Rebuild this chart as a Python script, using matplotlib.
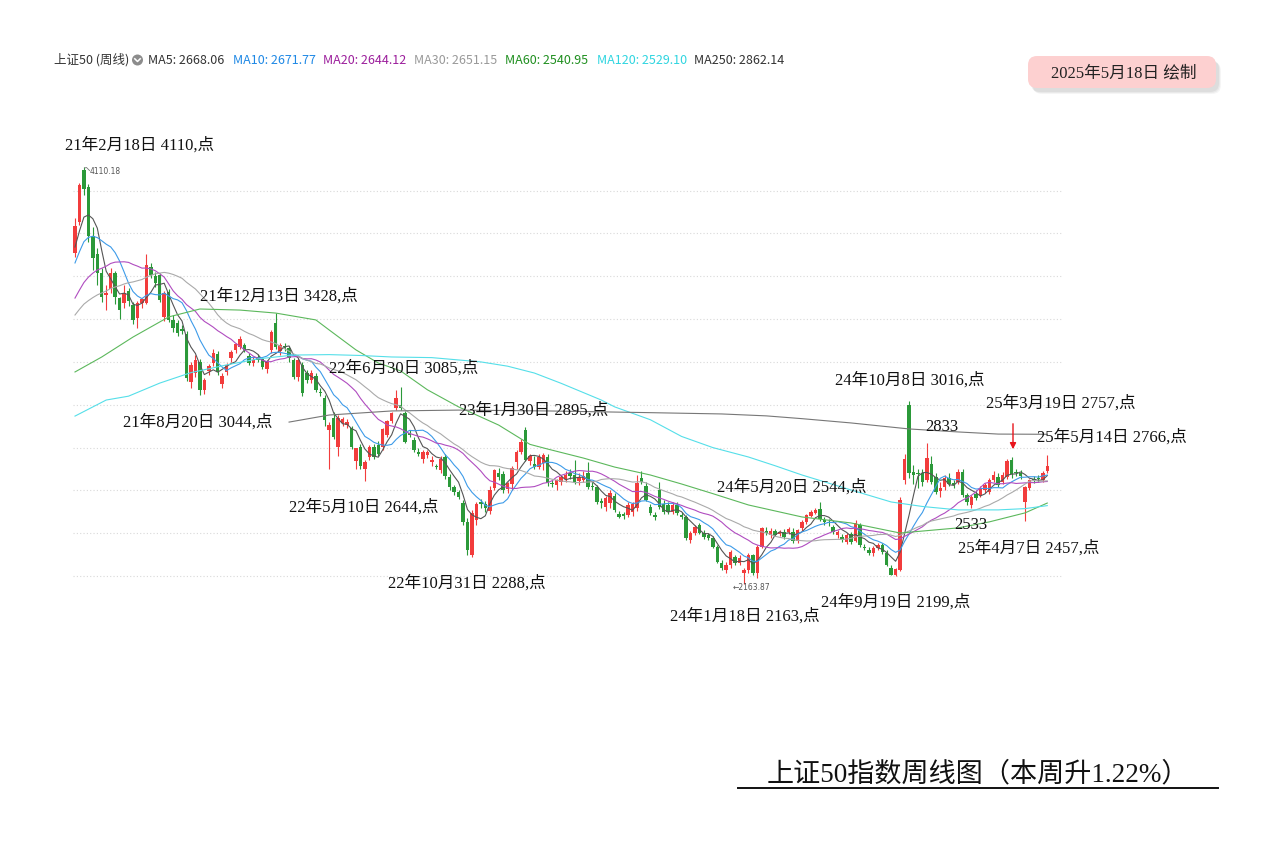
import matplotlib.pyplot as plt
from matplotlib.patches import FancyBboxPatch, Circle
import numpy as np
import pandas as pd

plt.rcParams['font.family'] = ['Noto Sans CJK SC', 'DejaVu Sans']
ANN_FONT = ['Liberation Serif', 'Noto Sans CJK SC']

# weekly bars of the SSE 50, first bar = week of 2021-02-01, last = week of 2025-05-12
opens = [
    3709, 3853, 4096, 4017, 3790, 3705, 3615, 3512, 3540, 3615,
    3498, 3475, 3531, 3466, 3405, 3475, 3475, 3643, 3601, 3606,
    3410, 3527, 3396, 3382, 3352, 3330, 3106, 3150, 3200, 3069,
    3158, 3195, 3237, 3095, 3153, 3218, 3256, 3270, 3279, 3228,
    3195, 3223, 3214, 3167, 3256, 3382, 3251, 3275, 3265, 3209,
    3130, 3186, 3148, 3116, 3135, 3060, 3031, 2882, 2938, 2803,
    2915, 2905, 2891, 2735, 2803, 2700, 2756, 2803, 2812, 2803,
    2859, 2924, 2985, 3000, 2961, 2868, 2835, 2780, 2746, 2765,
    2733, 2714, 2695, 2756, 2663, 2616, 2593, 2541, 2453, 2300,
    2460, 2545, 2535, 2505, 2610, 2681, 2676, 2605, 2630, 2733,
    2779, 2882, 2738, 2725, 2709, 2730, 2756, 2635, 2625, 2640,
    2653, 2681, 2672, 2644, 2649, 2681, 2621, 2616, 2551, 2522,
    2540, 2574, 2490, 2490, 2485, 2500, 2520, 2658, 2621, 2523,
    2485, 2602, 2537, 2532, 2500, 2532, 2485, 2476, 2368, 2401,
    2439, 2401, 2392, 2378, 2336, 2261, 2228, 2252, 2289, 2262,
    2214, 2228, 2298, 2214, 2336, 2410, 2392, 2410, 2396, 2406,
    2406, 2406, 2364, 2425, 2453, 2481, 2495, 2513, 2462, 2453,
    2429, 2392, 2382, 2359, 2396, 2365, 2439, 2336, 2322, 2308,
    2331, 2345, 2308, 2238, 2206, 2230, 2650, 3000, 2686, 2681,
    2681, 2649, 2723, 2663, 2598, 2616, 2658, 2635, 2640, 2686,
    2579, 2532, 2583, 2579, 2602, 2593, 2649, 2663, 2640, 2663,
    2742, 2688, 2680, 2546, 2612, 2655, 2660, 2650, 2690,
]
highs = [
    3872, 4035, 4110, 4030, 3830, 3730, 3640, 3560, 3640, 3625,
    3505, 3560, 3545, 3480, 3485, 3500, 3703, 3660, 3620, 3615,
    3530, 3540, 3420, 3395, 3370, 3345, 3200, 3230, 3215, 3125,
    3190, 3260, 3250, 3150, 3195, 3255, 3290, 3320, 3290, 3240,
    3225, 3235, 3225, 3210, 3350, 3428, 3290, 3290, 3275, 3220,
    3220, 3200, 3160, 3160, 3150, 3080, 3045, 2920, 2965, 2950,
    2945, 2935, 2900, 2800, 2815, 2740, 2810, 2815, 2830, 2890,
    2930, 2965, 3070, 3085, 2970, 2880, 2850, 2800, 2790, 2790,
    2760, 2725, 2760, 2770, 2675, 2625, 2600, 2555, 2470, 2510,
    2545, 2560, 2550, 2620, 2700, 2705, 2690, 2640, 2715, 2790,
    2840, 2895, 2770, 2760, 2770, 2775, 2770, 2650, 2655, 2670,
    2690, 2700, 2742, 2680, 2690, 2733, 2640, 2625, 2565, 2575,
    2600, 2590, 2505, 2500, 2545, 2548, 2670, 2690, 2640, 2535,
    2500, 2640, 2555, 2545, 2545, 2545, 2500, 2485, 2410, 2440,
    2450, 2415, 2400, 2385, 2345, 2275, 2265, 2320, 2300, 2300,
    2240, 2310, 2305, 2345, 2430, 2430, 2425, 2420, 2415, 2420,
    2430, 2425, 2420, 2460, 2490, 2510, 2520, 2544, 2475, 2465,
    2440, 2415, 2395, 2400, 2405, 2460, 2450, 2350, 2335, 2340,
    2355, 2355, 2320, 2250, 2240, 2570, 2770, 3016, 2720, 2700,
    2700, 2821, 2760, 2680, 2640, 2670, 2680, 2650, 2700, 2700,
    2590, 2580, 2600, 2620, 2635, 2660, 2690, 2680, 2685, 2745,
    2757, 2700, 2695, 2620, 2655, 2665, 2670, 2690, 2766,
]
lows = [
    3690, 3840, 3980, 3760, 3630, 3560, 3480, 3440, 3520, 3470,
    3400, 3450, 3460, 3375, 3360, 3450, 3470, 3590, 3550, 3480,
    3390, 3385, 3340, 3320, 3330, 3110, 3080, 3130, 3044, 3050,
    3140, 3180, 3140, 3080, 3140, 3200, 3240, 3260, 3245, 3185,
    3180, 3200, 3165, 3150, 3240, 3260, 3230, 3250, 3200, 3120,
    3110, 3040, 3100, 3100, 3060, 3040, 2900, 2700, 2840, 2760,
    2900, 2890, 2795, 2700, 2700, 2644, 2740, 2745, 2760, 2790,
    2850, 2915, 2975, 2975, 2820, 2850, 2780, 2760, 2730, 2750,
    2715, 2700, 2680, 2655, 2600, 2580, 2560, 2440, 2300, 2288,
    2440, 2520, 2500, 2490, 2600, 2650, 2590, 2590, 2600, 2700,
    2770, 2735, 2720, 2700, 2700, 2695, 2620, 2615, 2600, 2625,
    2640, 2655, 2630, 2625, 2640, 2605, 2600, 2535, 2520, 2505,
    2520, 2500, 2470, 2465, 2475, 2480, 2505, 2630, 2550, 2485,
    2460, 2515, 2490, 2490, 2490, 2485, 2465, 2370, 2355, 2390,
    2395, 2375, 2370, 2330, 2260, 2230, 2215, 2240, 2250, 2250,
    2164, 2215, 2205, 2190, 2330, 2390, 2380, 2385, 2385, 2375,
    2395, 2355, 2355, 2410, 2445, 2475, 2490, 2455, 2440, 2435,
    2395, 2380, 2360, 2350, 2350, 2360, 2335, 2320, 2300, 2295,
    2320, 2305, 2245, 2203, 2199, 2225, 2630, 2660, 2630, 2610,
    2620, 2640, 2630, 2585, 2570, 2600, 2620, 2610, 2630, 2570,
    2530, 2520, 2555, 2570, 2590, 2585, 2640, 2615, 2630, 2655,
    2660, 2665, 2655, 2457, 2600, 2635, 2640, 2640, 2680,
]
closes = [
    3835, 4026, 4007, 3790, 3685, 3615, 3503, 3522, 3615, 3503,
    3442, 3522, 3484, 3396, 3475, 3494, 3652, 3606, 3568, 3489,
    3522, 3396, 3358, 3335, 3343, 3125, 3185, 3209, 3069, 3116,
    3181, 3241, 3153, 3135, 3186, 3246, 3284, 3307, 3256, 3195,
    3209, 3209, 3176, 3200, 3340, 3270, 3279, 3265, 3218, 3130,
    3209, 3055, 3116, 3148, 3069, 3055, 2929, 2905, 2849, 2938,
    2934, 2919, 2803, 2798, 2714, 2733, 2803, 2756, 2770, 2887,
    2924, 2961, 3031, 2985, 2826, 2859, 2789, 2770, 2779, 2779,
    2742, 2709, 2746, 2667, 2616, 2593, 2569, 2453, 2322, 2495,
    2535, 2535, 2520, 2602, 2695, 2663, 2602, 2635, 2705, 2779,
    2826, 2742, 2760, 2710, 2756, 2765, 2635, 2628, 2649, 2663,
    2672, 2667, 2640, 2663, 2667, 2616, 2616, 2546, 2541, 2565,
    2588, 2509, 2476, 2481, 2532, 2537, 2635, 2640, 2555, 2495,
    2476, 2523, 2500, 2500, 2532, 2495, 2476, 2378, 2401, 2429,
    2401, 2382, 2378, 2336, 2266, 2238, 2252, 2312, 2261, 2284,
    2228, 2298, 2214, 2336, 2424, 2401, 2410, 2392, 2406, 2382,
    2420, 2362, 2415, 2453, 2485, 2499, 2509, 2467, 2453, 2448,
    2406, 2406, 2368, 2392, 2359, 2448, 2345, 2331, 2308, 2331,
    2345, 2312, 2252, 2205, 2232, 2555, 2745, 2681, 2672, 2675,
    2640, 2752, 2640, 2593, 2612, 2658, 2630, 2625, 2686, 2579,
    2546, 2569, 2565, 2612, 2625, 2649, 2672, 2625, 2672, 2735,
    2675, 2680, 2668, 2614, 2648, 2650, 2655, 2680, 2713,
]

# weekly closes before the first bar, only used to warm up the short averages
pre_closes = [
    3230, 3280, 3300, 3260, 3240, 3220, 3250, 3270, 3290, 3270,
    3280, 3300, 3290, 3310, 3320, 3340, 3330, 3360, 3380, 3430,
    3500, 3540, 3590, 3630, 3680, 3650, 3683, 3740, 3772,
]

# long averages: (bar index, value)
ma60_idx = [0, 6, 13, 21, 28, 37, 45, 54, 57, 63, 68, 73, 79, 86, 95, 102, 106,
            114, 121, 129, 136, 143, 151, 163, 174, 185, 198, 205, 213, 218]
ma60_val = [3153, 3223, 3316, 3410, 3447, 3442, 3428, 3396, 3349, 3256, 3195, 3158,
            3070, 2990, 2905, 2815, 2793, 2751, 2709, 2672, 2630, 2585, 2532, 2476,
            2448, 2401, 2425, 2453, 2495, 2541]
ma120_idx = [0, 7, 12, 19, 26, 34, 41, 49, 57, 64, 71, 80, 91, 97, 103, 109, 118,
             121, 129, 136, 143, 151, 157, 163, 174, 183, 190, 198, 207, 213, 218]
ma120_val = [2947, 3022, 3040, 3101, 3150, 3186, 3214, 3232, 3234, 3230, 3223, 3220,
             3200, 3180, 3148, 3100, 3022, 2990, 2930, 2852, 2800, 2756, 2715, 2672,
             2602, 2546, 2525, 2509, 2509, 2515, 2529]
ma250_idx = [48, 57, 71, 86, 106, 129, 145, 155, 163, 174, 187, 198, 207, 218]
ma250_val = [2919, 2952, 2971, 2975, 2971, 2963, 2957, 2948, 2935, 2915, 2887, 2873,
             2863, 2862]

header_labels = ['上证50 (周线)', 'MA5: 2668.06', 'MA10: 2671.77', 'MA20: 2644.12',
                 'MA30: 2651.15', 'MA60: 2540.95', 'MA120: 2529.10', 'MA250: 2862.14']
header_colors = ['#333333', '#333333', '#1e88e5', '#9c1f9c', '#999999',
                 '#1f8f1f', '#2fd5e0', '#333333']
header_x = [54, 148, 233, 323, 414, 505, 597, 694]

ann_texts = ['21年2月18日 4110,点', '21年12月13日 3428,点', '21年8月20日 3044,点',
             '22年6月30日 3085,点', '23年1月30日 2895,点', '22年5月10日 2644,点',
             '22年10月31日 2288,点', '24年5月20日 2544,点', '24年1月18日 2163,点',
             '24年9月19日 2199,点', '24年10月8日 3016,点', '2833',
             '25年3月19日 2757,点', '25年5月14日 2766,点', '2533', '25年4月7日 2457,点']
ann_pos = [(65, 145), (200, 296), (123, 422), (329, 368), (459, 410), (289, 507),
           (388, 583), (717, 487), (670, 616), (821, 602), (835, 380), (925, 427),
           (986, 403), (1037, 437), (954, 525), (958, 548)]

RED = '#f23c3c'
GREEN = '#2b9939'

W, H = 1273, 844
X0, DX = 75, 4.46            # pixel of first bar, pixels per bar
P0, Y0, PPX = 4110, 167, 4.669  # price at pixel row Y0, points per pixel

fig = plt.figure(figsize=(W / 100, H / 100), dpi=100)
fig.patch.set_facecolor('white')
ax = fig.add_axes([0, 0, 1, 1])
ax.set_xlim(-X0 / DX, (W - X0) / DX)
ax.set_ylim(P0 - (H - Y0) * PPX, P0 + Y0 * PPX)
ax.axis('off')

# dotted grid
ax.hlines(np.arange(2200, 4001, 200), -0.5, 221.5, colors='#d9d9d9',
          linestyles=(0, (1, 2)), lw=0.8, zorder=1)

# candles
o = np.array(opens, dtype=float)
h = np.array(highs, dtype=float)
l = np.array(lows, dtype=float)
c = np.array(closes, dtype=float)
x = np.arange(len(c))
col = np.where(c >= o, RED, GREEN)
ax.vlines(x, l, h, colors=col, lw=0.8, zorder=2)
ax.bar(x, np.maximum(np.abs(c - o), 4), bottom=np.minimum(o, c), width=0.78,
       color=col, lw=0, zorder=2)

# moving averages
allc = pd.Series(pre_closes + closes, dtype=float)
n_pre = len(pre_closes)
for n, colr in [(5, '#555555'), (10, '#3d9be9'), (20, '#b04cc0'), (30, '#aaaaaa')]:
    ma = allc.rolling(n).mean().iloc[n_pre:].to_numpy()
    ax.plot(x, ma, color=colr, lw=0.8, zorder=3)
ax.plot(ma60_idx, ma60_val, color='#5cb85c', lw=0.8, zorder=3)
ax.plot(ma120_idx, ma120_val, color='#55dfe9', lw=0.8, zorder=3)
ax.plot(ma250_idx, ma250_val, color='#777777', lw=0.8, zorder=3)

# overlay in pixel units for all texts
ov = fig.add_axes([0, 0, 1, 1], facecolor='none')
ov.set_xlim(0, W)
ov.set_ylim(H, 0)
ov.axis('off')

for lab, colr, hx in zip(header_labels, header_colors, header_x):
    ov.text(hx, 60, lab, color=colr, fontsize=9, va='center', ha='left')
ov.add_patch(Circle((137.5, 60), 5.5, fc='#8c8c8c', ec='none'))
ov.plot([134.8, 137.5, 140.2], [58.8, 61.5, 58.8], color='white', lw=1.1)

for txt, (tx, ty) in zip(ann_texts, ann_pos):
    ov.text(tx, ty, txt, fontsize=12, family=ANN_FONT, color='#111111',
            va='center', ha='left')

ov.plot([84.5, 86.5, 89.5], [168, 167.5, 170.5], color='#777777', lw=0.6)
ov.text(90, 171, '4110.18', fontsize=5.5, color='#555555', va='center',
        family='DejaVu Sans')
ov.text(733, 588, '←2163.87', fontsize=5.5, color='#555555', va='center',
        family='DejaVu Sans')

ov.annotate('', xy=(1013, 452), xytext=(1013, 421),
            arrowprops=dict(arrowstyle='-|>', color='#e8141b', lw=1,
                            mutation_scale=9))

# date box with soft shadow
for dx, dy, a in [(5, 6, 0.08), (4, 5, 0.10), (3, 4, 0.12)]:
    ov.add_patch(FancyBboxPatch((1028 + dx, 56 + dy), 188, 32,
                                boxstyle='round,pad=0,rounding_size=9',
                                fc='#888888', ec='none', alpha=a))
ov.add_patch(FancyBboxPatch((1028, 56), 188, 32,
                            boxstyle='round,pad=0,rounding_size=9',
                            fc='#fdd0d0', ec='none'))
ov.text(1124, 73, '2025年5月18日 绘制', fontsize=12, family=ANN_FONT,
        color='#222222', ha='center', va='center')

# title with underline
ov.text(978, 775, '上证50指数周线图（本周升1.22%）', fontsize=19.5,
        family=ANN_FONT, color='#111111', ha='center', va='center')
ov.plot([738, 1218], [788, 788], color='#111111', lw=1.4)

fig.savefig('out.png', dpi=100)
